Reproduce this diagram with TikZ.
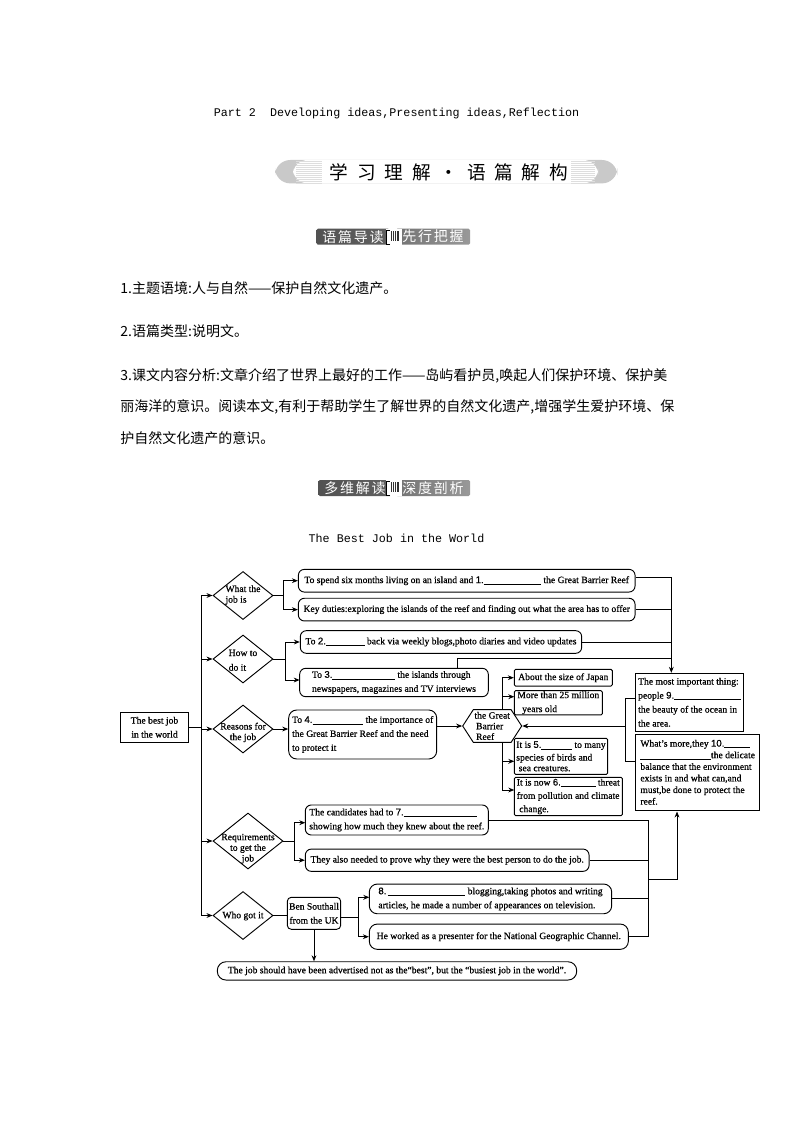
\documentclass[tikz,border=0pt]{standalone}
\usepackage{fontspec}
\setmainfont{Liberation Serif}[FakeBold=0.6]
\setmonofont{Liberation Mono}
\newfontfamily\cjk{Noto Sans CJK SC}
\newfontfamily\cjkwide{Noto Sans CJK SC}[LetterSpace=47]
\newfontfamily\cjktag{Noto Sans CJK SC}[LetterSpace=12]
\newfontfamily\numfont{Liberation Sans}[FakeBold=0.6]
\usepackage{tikz}
\usetikzlibrary{positioning,arrows.meta,shapes.geometric,shapes.symbols,calc}
\definecolor{bargray}{HTML}{C9C9C9}
\definecolor{stripegray}{HTML}{DEDEDE}
\newcommand{\blank}[1]{\rule[-1pt]{#1pt}{0.45pt}}
\newcommand{\no}[1]{{\numfont #1}}
\newcommand{\dtxt}[3][c]{\makebox[0pt]{\smash{\raisebox{-#2pt}{\renewcommand{\arraystretch}{0.76}\begin{tabular}[c]{@{}#1@{}}#3\end{tabular}}}}}

\begin{document}
\begin{tikzpicture}[
    x=0.75pt, y=-0.75pt,
    txt/.style={font=\fontsize{7.2}{10.5}\selectfont, align=left, inner sep=0pt},
    rbox/.style 2 args={draw, rounded corners=4.5pt, txt, minimum width=#1*0.75pt, minimum height=#2*0.75pt},
    sbox/.style 2 args={draw, rounded corners=1pt, txt, minimum width=#1*0.75pt, minimum height=#2*0.75pt},
    decision/.style 2 args={draw, diamond, txt, minimum width=#1*0.75pt, minimum height=#2*0.75pt},
    arrow/.style={-{Stealth[length=4.5pt,width=3.6pt]}},
    body/.style={font=\cjk\fontsize{10.5}{14}\selectfont, anchor=west, inner sep=0pt},
    mono/.style={font=\ttfamily\fontsize{8.78}{11}\selectfont, inner sep=0pt},
    tagdark/.style={rounded corners=1pt, minimum width=73*0.75pt, minimum height=16*0.75pt,
        left color=black!68, right color=black!62, text=white, font=\cjktag\fontsize{10.5}{12}\selectfont, inner sep=0pt},
    taglight/.style={rounded corners=1pt, minimum width=74*0.75pt, minimum height=16*0.75pt,
        left color=black!55, right color=black!40, text=white, font=\cjktag\fontsize{10.5}{12}\selectfont, inner sep=0pt},
    every path/.append style={line width=0.7pt},
]
\path[use as bounding box, fill=white] (0,0) rectangle (794,1123);

% page head
\node[mono] (part) at (396.5,113) {Part 2~~Developing ideas,Presenting ideas,Reflection};

\fill[bargray, rounded corners=11.5pt] (275,160) rectangle (617.3,183.4);
\fill[white, rounded corners=11pt] (293,160) rectangle (598,183.4);
\foreach \yy in {161,163,...,183} {
    \draw[stripegray, line width=0.5pt] (296,\yy) -- (322,\yy);
    \draw[stripegray, line width=0.5pt] (571,\yy) -- (595,\yy);
}
\fill[white] (322,160) rectangle (570.7,183.4);
\node[font=\cjkwide\fontsize{14}{15}\selectfont, inner sep=0pt] (headA) at (449,172) {学习理解·语篇解构};

\node[tagdark] (tagA) at (353,236.7) {语篇导读};
\node[taglight] (tagB) at (433,236.7) {先行把握};
\fill[white] (386,229) rectangle (402,245);
\draw[line width=0.6pt] (390,244) -- (386.5,244) -- (386.5,230) -- (390,230);
\fill[black!80] (391,231) rectangle (399,241);
\foreach \xx in {392.5,394.5,396.5} \draw[white, line width=0.5pt] (\xx,231) -- (\xx,241);

\node[body] (lineA) at (120,288) {1.主题语境:人与自然——保护自然文化遗产。};
\node[body] (lineB) at (120,331) {2.语篇类型:说明文。};
\node[body] (lineC) at (120,376) {3.课文内容分析:文章介绍了世界上最好的工作——岛屿看护员,唤起人们保护环境、保护美};
\node[body] (lineD) at (120,407) {丽海洋的意识。阅读本文,有利于帮助学生了解世界的自然文化遗产,增强学生爱护环境、保};
\node[body] (lineE) at (120,438) {护自然文化遗产的意识。};

\node[tagdark] (tagC) at (355,488) {多维解读};
\node[taglight] (tagD) at (433,488) {深度剖析};
\fill[white] (386,480) rectangle (402,496);
\draw[line width=0.6pt] (390,495) -- (386.5,495) -- (386.5,481) -- (390,481);
\fill[black!80] (391,482) rectangle (399,492);
\foreach \xx in {392.5,394.5,396.5} \draw[white, line width=0.5pt] (\xx,482) -- (\xx,492);

\node[mono] (title) at (396.5,538) {The Best Job in the World};

% left column
\node[draw, txt, align=center, minimum width=68.4*0.75pt, minimum height=30*0.75pt] (best) at (154.5,727.3) {The best job\\in the world};
\node[decision={60}{48}] (d1) at (243,595.5) {\dtxt[l]{1.5}{What the\\job is}};
\node[decision={60}{48}] (d2) at (243,659) {\dtxt[l]{3.4}{How to\\[3pt]do it}};
\node[decision={60}{48}] (d3) at (243,729) {\dtxt{4.5}{Reasons for\\the job}};
\node[decision={70}{56}] (d4) at (248,841) {\dtxt{7.5}{Requirements\\to get the\\job}};
\node[decision={60}{48}] (d5) at (243,915.5) {\dtxt{2.2}{Who got it}};

% rounded boxes
\node[rbox={336.7}{22.7}] (r1) at (466.7,580.7) {To spend six months living on an island and \no{1.}\blank{43} the Great Barrier Reef};
\node[rbox={336.7}{22.7}] (r2) at (466.7,609.6) {Key duties:exploring the islands of the reef and finding out what the area has to offer};
\node[rbox={281.4}{22.6}] (r3) at (441,642) {To \no{2.}\blank{29} back via weekly blogs,photo diaries and video updates};
\node[rbox={188.6}{28.4}] (r4) at (394,682.5) {To \no{3.}\blank{47} the islands through\\newspapers, magazines and TV interviews};
\node[rbox={148}{49}, rounded corners=6pt] (r5) at (362.7,734.5) {To \no{4.}\blank{38} the importance of\\the Great Barrier Reef and the need\\to protect it};
\node[rbox={183}{30}] (r6) at (396.8,820) {The candidates had to \no{7.}\blank{55}\\showing how much they knew about the reef.};
\node[rbox={283.7}{22.3}] (r7) at (447.2,860.2) {They also needed to prove why they were the best person to do the job.};
\node[rbox={53.4}{32}, rounded corners=3pt, align=center] (ben) at (314,913.3) {Ben Southall\\from the UK};
\node[rbox={242.4}{29.7}, rounded corners=6pt] (r8) at (490.5,898.9) {\no{8.}\,\blank{58} blogging,taking photos and writing\\articles, he made a number of appearances on television.};
\node[rbox={259}{25.3}, rounded corners=6pt] (r9) at (498.8,936.7) {He worked as a presenter for the National Geographic Channel.};
\node[rbox={359.4}{18.3}, rounded corners=6.5pt] (note) at (397,970.9) {The job should have been advertised not as the“best”, but the “busiest job in the world”.};

% reef column
\node[draw, signal, signal to=west and east, signal pointer angle=114, txt, minimum width=59*0.75pt, minimum height=32.7*0.75pt] (hex) at (492.2,726) {\dtxt[l]{2.6}{the Great\\\,Barrier\\\,Reef}};
\node[sbox={98}{16.7}] (b1) at (563.3,677.7) {About the size of Japan};
\node[sbox={88}{24.3}] (b2) at (558.3,702.8) {More than 25 million\\\ \ years old};
\node[sbox={93.4}{36}] (b3) at (561,756.3) {It is \no{5.}\blank{23} to many\\[-1pt]species of birds and\\[-2.5pt]\ sea creatures.};
\node[sbox={108}{38.4}] (b4) at (568.3,796.5) {It is now \no{6.}\blank{26} threat\\[-0.5pt]from pollution and climate\\[-0.5pt]\ change.};
\node[draw, txt, minimum width=107.6*0.75pt, minimum height=58*0.75pt] (p1) at (689.5,702.3) {The most important thing:\\people \no{9.}\blank{50}\\the beauty of the ocean in\\the area.};
\node[draw, txt, font=\fontsize{7.2}{8.7}\selectfont, minimum width=124*0.75pt, minimum height=76*0.75pt] (p2) at (697.7,772.3) {What's more,they \no{10.}\blank{19}\\\blank{53}the delicate\\balance that the environment\\exists in and what can,and\\must,be done to protect the\\reef.};

% joints
\coordinate (trunk) at (201.7,729);
\coordinate (brA) at (283,595.5);
\coordinate (brB) at (285.3,659);
\coordinate (brD4) at (294.3,841);
\coordinate (toR4) at (299.7,680);
\coordinate (toR6) at (305.3,822.7);
\coordinate (brBen) at (358.3,917.7);
\coordinate (toR8) at (369.3,897.3);
\coordinate (brHex) at (502.3,726);
\coordinate (toB2) at (514.3,696.7);
\coordinate (toB3) at (514.3,761.3);
\coordinate (toB4) at (514.3,790);
\coordinate (busTop) at (671.3,577.3);
\coordinate (busR4) at (457.3,658.7);
\coordinate (brTop) at (625.7,698.7);
\coordinate (brBot) at (625.7,761);
\coordinate (brP) at (625.7,726);
\coordinate (busLow) at (648.7,879.3);
\coordinate (toP2) at (677,811.5);

% trunk and diamonds
\draw (best) -- (best -| trunk);
\draw[arrow] (trunk) |- (d1);
\draw[arrow] (trunk) |- (d2);
\draw[arrow] (trunk) -- (d3);
\draw[arrow] (trunk) |- (d4);
\draw[arrow] (trunk) |- (d5);

\draw (d1) -- (brA);
\draw[arrow] (brA) |- (r1);
\draw[arrow] (brA) |- (r2);
\draw (d2) -- (brB);
\draw[arrow] (brB) |- (r3);
\draw[arrow] (brB) |- (toR4);
\draw[arrow] (d3) -- (d3 -| r5.west);
\draw[arrow] (r5.east |- hex) -- (hex);
\draw (d4) -- (brD4);
\draw[arrow] (brD4) |- (toR6);
\draw[arrow] (brD4) |- (r7);
\draw (d5) -- (d5 -| ben.west);
\draw (ben.east |- brBen) -- (brBen);
\draw[arrow] (brBen) |- (toR8);
\draw[arrow] (brBen) |- (r9);
\draw[arrow] (ben) -- (ben |- note.north);

\draw[arrow] (brHex |- hex.north) |- (b1);
\draw[arrow] (brHex |- hex.north) |- (toB2);
\draw[arrow] (brHex |- hex.south) |- (toB3);
\draw[arrow] (brHex |- hex.south) |- (toB4);

% into the boxes on the right
\draw[arrow] (r1.east |- busTop) -- (busTop) -- (busTop |- p1.north);
\draw (r2) -- (r2 -| busTop);
\draw (r3) -- (r3 -| busTop);
\draw (busR4 |- r4.north) -- (busR4) -- (busR4 -| busTop);
\draw (p1.west |- brTop) -- (brTop) -- (brBot) -- (p2.west |- brBot);
\draw[arrow] (brP) -- (hex);
\draw (r6) -- (r6 -| busLow) -- (r9 -| busLow) -- (r9);
\draw (r7) -- (r7 -| busLow);
\draw (r8) -- (r8 -| busLow);
\draw[arrow] (busLow) -| (toP2);

\end{tikzpicture}
\end{document}
